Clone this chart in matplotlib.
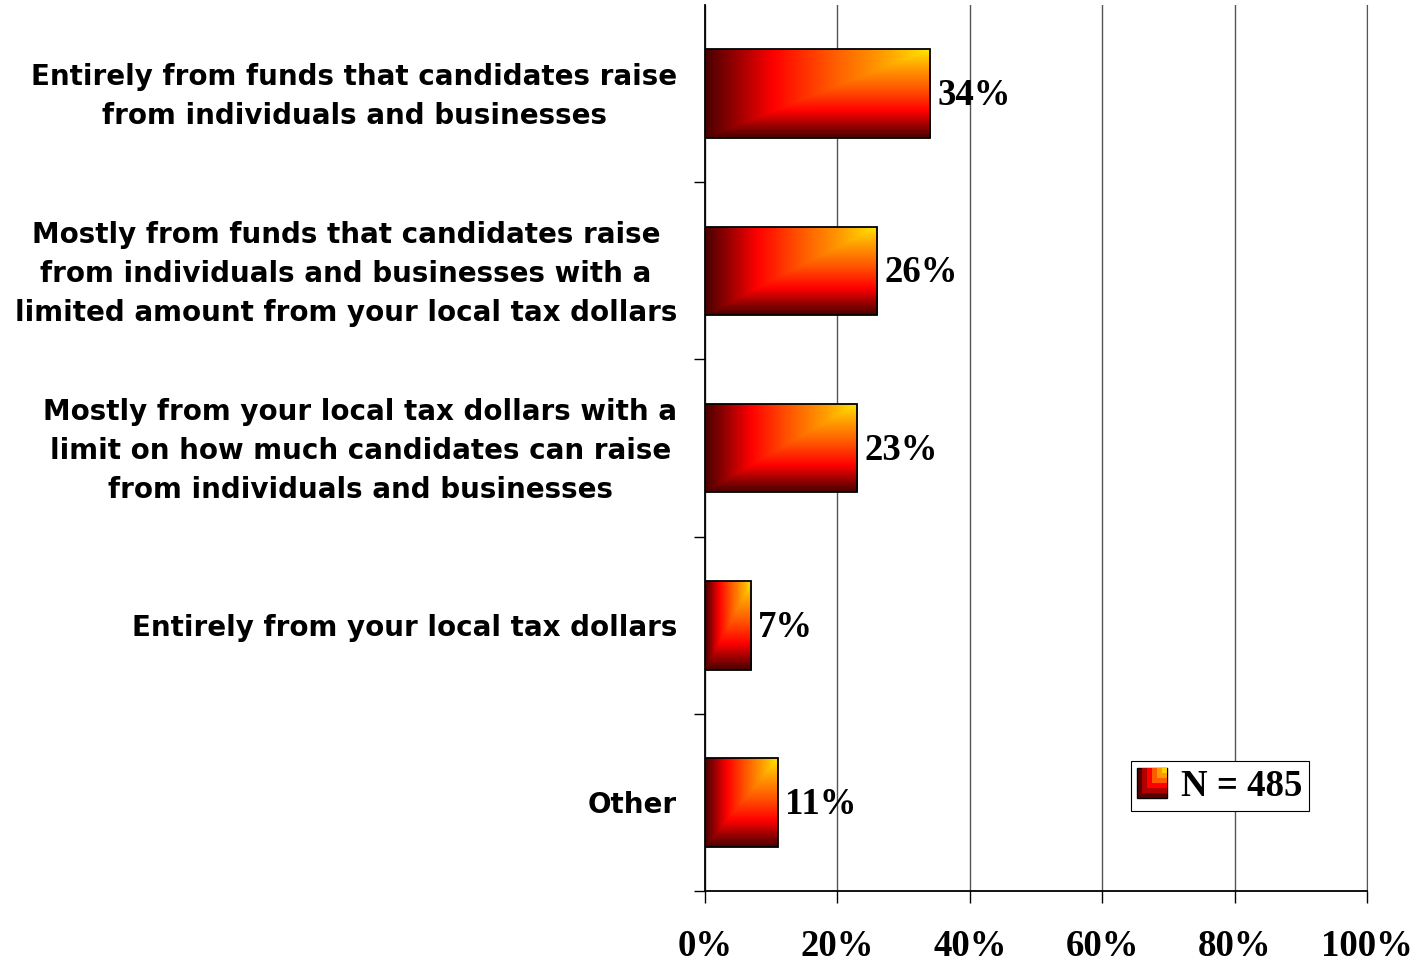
import numpy as np
import matplotlib
matplotlib.use('Agg')
import matplotlib.pyplot as plt
from matplotlib.colors import LinearSegmentedColormap
from matplotlib.patches import Rectangle
from matplotlib.legend_handler import HandlerBase

# data
categories = [
    'Entirely from funds that candidates raise\nfrom individuals and businesses',
    'Mostly from funds that candidates raise\nfrom individuals and businesses with a\nlimited amount from your local tax dollars',
    'Mostly from your local tax dollars with a\nlimit on how much candidates can raise\nfrom individuals and businesses',
    'Entirely from your local tax dollars',
    'Other',
]
values = [34, 26, 23, 7, 11]
value_labels = ['34%', '26%', '23%', '7%', '11%']
xticks = [0, 20, 40, 60, 80, 100]
xtick_labels = ['0%', '20%', '40%', '60%', '80%', '100%']
legend_label = 'N = 485'

serif = 'Liberation Serif'
fire = LinearSegmentedColormap.from_list('fire', [
    (0.0, '#4a0000'), (0.12, '#900000'), (0.3, '#ff0000'),
    (0.55, '#ff5500'), (0.8, '#ffa000'), (1.0, '#ffe600')])

fig = plt.figure(figsize=(14.18, 9.64), dpi=100)
ax = fig.add_axes([705 / 1418, 73 / 964, 662 / 1418, 886 / 964])

y = np.arange(len(values))

# gradient: yellow in top-right corner, dark towards left and bottom
n = 200
gx, gy = np.meshgrid(np.linspace(0, 1, n), np.linspace(0, 1, n))
grad = np.minimum(gx, gy)

h = 0.5
for i, v in enumerate(values):
    bar = ax.barh(i, v, height=h, color='none', edgecolor='black', linewidth=1.3, zorder=4)[0]
    im = ax.imshow(grad, cmap=fire, origin='lower', aspect='auto',
                   extent=(0, v, i + h / 2, i - h / 2), zorder=3, interpolation='bilinear')
    im.set_clip_path(bar)
    ax.annotate(value_labels[i], (v, i), xytext=(5, -1.5), textcoords='offset points',
                ha='left', va='center', fontsize=26.5, fontweight='bold', family=serif, zorder=5)
    # category label left of the axis
    ax.annotate(categories[i], (0, i), xycoords=('axes fraction', 'data'),
                xytext=(-20, -2), textcoords='offset points', ha='right', va='center',
                multialignment='center', linespacing=1.5, fontsize=20, fontweight='bold')
ax.set_xlim(0, 100)
ax.set_ylim(len(values) - 0.5, -0.5)

# axes styling
ax.set_xticks(xticks)
ax.set_xticklabels(xtick_labels, fontsize=26.5, fontweight='bold', family=serif)
ax.tick_params(axis='x', direction='out', length=8.6, width=1, pad=19)
ax.set_yticks([])
ax.set_yticks(np.arange(0.5, len(values)), minor=True)
ax.tick_params(axis='y', which='minor', length=8, width=1, direction='out')
ax.xaxis.grid(True, color='#555555', linewidth=1)
ax.set_axisbelow(True)
ax.spines['top'].set_visible(False)
ax.spines['right'].set_color('#555555')
ax.spines['left'].set_linewidth(1.3)
ax.spines['bottom'].set_linewidth(1.3)


class GradHandler(HandlerBase):
    def create_artists(self, legend, orig_handle, xdescent, ydescent, width, height, fontsize, trans):
        s = height * 1.15
        x0, y0 = -xdescent + (width - s) / 2, -ydescent + (height - s) / 2
        cols = ['#5a0000', '#b00000', '#ff0000', '#ff5a00', '#ff9a00', '#ffd000']
        arts = [Rectangle((x0, y0), s, s, facecolor=cols[0], edgecolor='black', lw=1, transform=trans)]
        for k, c in enumerate(cols[1:], start=1):
            f = k / len(cols)
            arts.append(Rectangle((x0 + s * f, y0 + s * f), s * (1 - f), s * (1 - f),
                                  facecolor=c, edgecolor='none', transform=trans))
        return arts


handle = Rectangle((0, 0), 1, 1)
leg = ax.legend([handle], [legend_label], handler_map={Rectangle: GradHandler()},
                loc='lower left', bbox_to_anchor=((1131 - 705) / 662, (891 - 811) / 886),
                prop={'family': serif, 'weight': 'bold', 'size': 26.5},
                frameon=True, fancybox=False, framealpha=1, edgecolor='black',
                handlelength=0.75, handletextpad=0.4, borderpad=0.2, borderaxespad=0)
leg.get_frame().set_linewidth(0.8)

fig.savefig('out.png', dpi=100)
